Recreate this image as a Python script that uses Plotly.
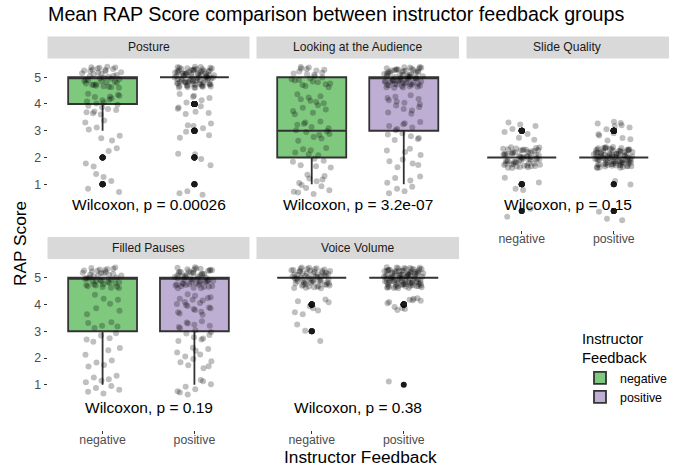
import numpy as np
import plotly.graph_objects as go

# ---------------------------------------------------------------
# Data: jittered RAP scores (integer score +
# vertical jitter). The box plots use the integer score.
# ---------------------------------------------------------------
groups = ["negative", "positive"]
facets = ["Posture", "Looking at the Audience", "Slide Quality", "Filled Pauses", "Voice Volume"]
p_labels = ["Wilcoxon, p = 0.00026", "Wilcoxon, p = 3.2e-07", "Wilcoxon, p = 0.15",
            "Wilcoxon, p = 0.19", "Wilcoxon, p = 0.38"]
y_ticks = [1, 2, 3, 4, 5]

posture_neg = [
    0.83, 1.12, 1.38, 0.71, 1.27,
    1.78, 2.24, 1.66, 2.35,
    2.72, 3.31, 2.64, 3.12, 2.81, 3.38, 3.05,
    4.21, 3.72, 4.35, 3.88, 4.09, 4.28, 3.65, 3.97, 4.14, 4.38, 3.81, 4.02, 4.31, 3.61, 3.93, 4.17, 4.26, 3.78, 4.06, 3.69,
    5.22, 4.71, 5.36, 4.85, 5.04, 4.63, 5.29, 4.92, 5.13, 4.77, 5.39, 4.68, 5.08, 4.96, 5.25, 4.81, 5.17, 4.61, 5.33, 4.89,
    5.02, 4.74, 5.19, 4.66, 5.37, 4.94, 5.11, 4.79, 5.27, 4.86, 5.06, 4.72, 5.31, 4.99, 5.15, 4.64, 5.23, 4.83, 5.35, 4.91,
]
posture_pos = [
    0.66, 0.61, 0.74,
    1.71, 2.12, 2.14, 1.94,
    3.21, 2.83, 3.18, 2.74, 3.09, 2.96, 3.27,
    4.31, 3.82, 4.14, 3.63, 4.22, 3.71, 4.37, 3.92, 4.06, 3.66, 4.27, 3.87,
    5.23, 4.69, 5.07, 4.88, 5.36, 4.73, 5.15, 4.95, 5.29, 4.62, 5.02, 4.81, 5.33, 4.91, 5.18, 4.66, 5.11, 4.76, 5.27, 4.99,
    5.38, 4.84, 5.05, 4.71, 5.21, 4.64, 5.13, 4.93, 5.31, 4.78, 5.09, 4.87, 5.25, 4.61, 5.17, 4.97, 5.34, 4.75, 5.03, 4.83,
    5.22, 4.68, 5.12, 4.90, 5.37, 4.80, 5.06, 4.72, 5.28, 4.94, 5.19, 4.63, 5.01, 4.86, 5.32, 4.77, 5.14, 4.96, 5.24, 4.67,
    5.10, 4.82, 5.35, 4.74, 5.04, 4.89, 5.20, 4.65, 5.16, 4.92, 5.30, 4.79, 5.08, 4.85, 5.26, 4.70, 5.12, 4.98, 5.39, 4.76,
    5.00, 4.88, 5.21, 4.62, 5.15, 4.90,
]
looking_neg = [
    0.72, 1.18, 0.86, 1.31, 0.64, 1.05, 0.93, 1.36, 0.78, 1.22, 0.69, 1.11, 0.97,
    1.63, 2.27, 1.84, 2.08, 1.71, 2.36, 1.95, 2.19, 1.67, 2.31, 1.88, 2.12,
    3.02, 2.71, 3.26, 2.88, 3.14, 2.63, 3.35, 2.95, 3.09, 2.77, 3.22, 2.84, 3.31, 2.98,
    4.12, 3.74, 4.29, 3.86, 4.03, 3.67, 4.36, 3.95, 4.18, 3.79, 4.24, 3.62, 4.07,
    5.21, 4.74, 5.36, 4.88, 5.09, 4.67, 5.28, 4.95, 5.14, 4.81, 5.33, 4.63, 5.04, 4.90, 5.25, 4.71, 5.17, 4.84, 5.38, 4.99,
    5.11, 4.77, 5.31, 4.92,
]
looking_pos = [
    0.66, 1.14, 0.83, 1.29, 0.74, 1.06, 0.91, 1.23,
    1.72, 2.21, 1.86, 2.33, 1.64, 2.09, 1.93, 2.26, 1.78,
    3.07, 2.73, 3.24, 2.86, 3.12, 2.65, 3.33, 2.91, 3.18, 2.79, 3.02, 2.69, 3.28,
    4.14, 3.76, 4.27, 3.89, 4.05, 3.68, 4.33, 3.94, 4.19, 3.81, 4.22, 3.64, 4.09, 3.99,
    5.24, 4.71, 5.09, 4.86, 5.35, 4.77, 5.16, 4.93, 5.29, 4.64, 5.03, 4.82, 5.32, 4.90, 5.19, 4.67, 5.12, 4.79, 5.26, 4.97,
    5.37, 4.85, 5.06, 4.73, 5.22, 4.62, 5.14, 4.94, 5.30, 4.76, 5.08, 4.88, 5.27, 4.61, 5.18, 4.98, 5.34, 4.74, 5.01, 4.84,
    5.23, 4.69, 5.11, 4.91, 5.38, 4.81, 5.05, 4.72, 5.28, 4.95, 5.20, 4.63, 5.02, 4.87, 5.33, 4.78, 5.15, 4.96, 5.25, 4.68,
    5.10, 4.83, 5.36, 4.75, 5.04, 4.89, 5.21, 4.66,
]
slide_neg = [
    -0.21, 0.09,
    0.83, 1.07, 0.79, 1.24,
    2.21, 1.74, 2.08, 1.86, 2.33, 1.67, 2.15, 1.93, 2.27, 1.62, 2.04, 1.81, 2.36, 1.89, 2.12, 1.70, 2.19, 1.97, 2.30, 1.77,
    2.01, 1.84, 2.25, 1.65, 2.10, 1.91, 2.38, 1.73, 2.06, 1.88, 2.17, 1.61, 2.28, 1.95, 2.13, 1.79, 2.34, 1.68, 2.02, 1.85,
    2.23, 1.76, 2.09, 1.99, 2.31, 1.64, 2.16, 1.92, 2.26, 1.72, 2.05, 1.83, 2.37, 1.69, 2.11, 1.94, 2.20, 1.78, 2.03, 1.87,
    2.29, 1.66,
    3.18, 2.74, 3.31, 2.88, 3.07, 2.66, 3.23, 2.95,
]
slide_pos = [
    -0.03, -0.34, -0.29,
    0.99, 1.12,
    2.18, 1.71, 2.05, 1.88, 2.32, 1.64, 2.13, 1.95, 2.27, 1.79, 2.02, 1.83, 2.36, 1.67, 2.10, 1.92, 2.24, 1.75, 2.07, 1.98,
    2.30, 1.62, 2.16, 1.86, 2.39, 1.73, 2.01, 1.90, 2.21, 1.69, 2.12, 1.81, 2.34, 1.77, 2.04, 1.94, 2.26, 1.66, 2.09, 1.85,
    2.19, 1.72, 2.37, 1.89, 2.03, 1.61, 2.15, 1.97, 2.28, 1.76, 2.06, 1.84, 2.33, 1.68, 2.11, 1.93, 2.22, 1.78, 2.00, 1.87,
    2.35, 1.65, 2.14, 1.96, 2.25, 1.74, 2.08, 1.82, 2.31, 1.70, 2.17, 1.91, 2.38, 1.80, 2.02, 1.63, 2.20, 1.99, 2.29, 1.75,
    2.06, 1.88, 2.23, 1.67, 2.13, 1.94, 2.36, 1.72, 2.04, 1.85, 2.27, 1.79, 2.10, 1.90,
    3.34, 2.82, 3.21, 2.64, 3.12, 2.91, 3.27, 2.73, 3.06, 2.68, 3.18, 2.87, 3.29,
]
filled_neg = [
    0.74, 1.21, 0.88, 1.34, 0.67, 1.09, 0.95, 1.27, 0.81, 1.15,
    1.68, 2.29, 1.83, 2.37, 1.74, 2.12, 1.91,
    2.61, 3.18, 2.84, 3.31, 2.74, 3.12, 2.93, 3.21, 2.69, 3.34,
    4.36, 3.77, 4.21, 3.64, 4.03, 3.86, 4.18,
    5.26, 4.73, 5.11, 4.86, 5.34, 4.65, 5.19, 4.93, 5.05, 4.79, 5.31, 4.68, 5.14, 4.89, 5.38, 4.76, 5.02, 4.84, 5.23, 4.62,
    5.16, 4.97, 5.29, 4.71, 5.08, 4.91, 5.36, 4.81, 5.12, 4.66, 5.21, 4.95, 5.33, 4.75, 5.01, 4.87, 5.27, 4.63, 5.09, 4.83,
    5.18, 4.99,
]
filled_pos = [
    0.71, 1.13, 0.64, 1.02, 0.83, 0.76, 1.18, 0.93,
    1.69, 2.27, 1.84, 2.13, 1.73, 2.34, 1.96, 2.21, 1.62, 2.06, 1.88, 2.38,
    3.16, 2.73, 3.29, 2.86, 3.04, 2.64, 3.37, 2.92, 3.21, 2.78, 3.11, 2.69, 3.33, 2.97, 3.24,
    4.21, 3.73, 4.09, 3.86, 4.33, 3.66, 4.15, 3.94, 4.27, 3.79, 4.02, 3.62, 4.38, 3.89, 4.18, 3.71, 4.06, 3.98, 4.24, 3.83,
    5.22, 4.74, 5.07, 4.86, 5.35, 4.68, 5.15, 4.92, 5.28, 4.63, 5.03, 4.81, 5.32, 4.89, 5.19, 4.71, 5.10, 4.77, 5.26, 4.96,
    5.37, 4.84, 5.05, 4.66, 5.20, 4.61, 5.13, 4.94, 5.30, 4.79, 5.08, 4.87, 5.24, 4.69, 5.17, 4.98, 5.34, 4.73, 5.01, 4.83,
    5.21, 4.65, 5.12, 4.91, 5.39, 4.80, 5.04, 4.76, 5.27, 4.93, 5.18, 4.62, 5.02, 4.88, 5.31, 4.75, 5.14,
]
voice_neg = [
    3.25, 2.64, 3.02,
    4.19, 3.86, 4.12, 3.78, 3.64, 4.08, 3.93, 3.71,
    5.21, 4.73, 5.08, 4.88, 5.34, 4.66, 5.16, 4.94, 5.27, 4.62, 5.03, 4.82, 5.31, 4.90, 5.12, 4.69, 5.24, 4.78, 5.37, 4.97,
    5.06, 4.85, 5.19, 4.64, 5.29, 4.92, 5.01, 4.75, 5.14, 4.87, 5.35, 4.70, 5.09, 4.96, 5.23, 4.61, 5.17, 4.83, 5.32, 4.79,
    5.04, 4.91, 5.26, 4.67, 5.11, 4.86, 5.38, 4.74, 5.02, 4.93, 5.20, 4.63, 5.15, 4.81, 5.28, 4.89, 5.07, 4.71, 5.33, 4.98,
    5.13, 4.77, 5.25, 4.84, 5.05,
]
voice_pos = [
    1.12,
    4.21, 3.79, 4.14, 3.83, 4.09, 4.18, 3.91, 4.23, 3.87, 4.05, 4.16,
    5.24, 4.71, 5.06, 4.89, 5.33, 4.65, 5.17, 4.93, 5.28, 4.62, 5.02, 4.80, 5.36, 4.87, 5.13, 4.68, 5.21, 4.76, 5.39, 4.96,
    5.09, 4.84, 5.26, 4.63, 5.15, 4.91, 5.31, 4.73, 5.04, 4.85, 5.35, 4.69, 5.11, 4.98, 5.22, 4.61, 5.18, 4.82, 5.30, 4.78,
    5.01, 4.94, 5.27, 4.66, 5.14, 4.88, 5.37, 4.75, 5.07, 4.90, 5.19, 4.64, 5.12, 4.83, 5.32, 4.79, 5.05, 4.97, 5.25, 4.70,
    5.16, 4.86, 5.34, 4.74, 5.03, 4.92, 5.23, 4.67, 5.10, 4.81, 5.38, 4.77, 5.08, 4.95, 5.20, 4.62, 5.15, 4.87, 5.29, 4.72,
    5.00, 4.90, 5.26, 4.65, 5.13, 4.84, 5.33, 4.76, 5.06, 4.99, 5.21, 4.68, 5.11, 4.82, 5.36, 4.73, 5.04, 4.93, 5.24, 4.80,
]

facet_data = {
    "Posture": (posture_neg, posture_pos),
    "Looking at the Audience": (looking_neg, looking_pos),
    "Slide Quality": (slide_neg, slide_pos),
    "Filled Pauses": (filled_neg, filled_pos),
    "Voice Volume": (voice_neg, voice_pos),
}

# ---------------------------------------------------------------
# Style / layout constants (positions in page pixels)
# ---------------------------------------------------------------
W, H = 674, 468
FONT = "Liberation Sans, Arial, sans-serif"
FILL = {"negative": "#7FC97F", "positive": "#BEAED4"}
STRIP_BG = "#D9D9D9"

COL_X = [(47.5, 249.5), (256.5, 459.0), (466.5, 669.0)]
ROW_Y = [(58.5, 229.5), (259.0, 430.0)]      # panel top/bottom
STRIP_H = 22
Y_RANGE = [-0.69, 5.70]
LABEL_Y = [0.26, 0.16]
# sub-columns for the jittered points (in half box widths)
POINT_POS = [-0.45, 0.22, -0.22, 0.45, 0.0]


def px_x(v):
    return v / W


def px_y(v):
    return 1 - v / H


fig = go.Figure()
layout = dict(shapes=[], annotations=[])

for i, facet in enumerate(facets):
    r, c = divmod(i, 3)
    ax = "" if i == 0 else str(i + 1)
    xref, yref = "x" + ax, "y" + ax
    neg, pos = facet_data[facet]

    for g, vals in zip(groups, (neg, pos)):
        vals = np.array(vals)
        # box of integer scores, outliers in black
        fig.add_trace(go.Box(
            x=[g] * len(vals), y=np.rint(vals), xaxis=xref, yaxis=yref,
            name=g, showlegend=(i == 0),
            fillcolor=FILL[g], line=dict(color="#333333", width=1.8),
            width=0.75, whiskerwidth=0,
            boxpoints="outliers", jitter=0, pointpos=0,
            marker=dict(color="#1A1A1A", size=6, line=dict(width=0)),
            hoverinfo="skip",
        ))
        # jittered raw points on top, spread over a few sub-columns
        for k, pp in enumerate(POINT_POS):
            sub = vals[k::len(POINT_POS)]
            fig.add_trace(go.Box(
                x=[g] * len(sub), y=sub, xaxis=xref, yaxis=yref,
                showlegend=False, width=0.75,
                fillcolor="rgba(0,0,0,0)", line=dict(color="rgba(0,0,0,0)", width=0),
                boxpoints="all", jitter=0.15, pointpos=pp,
                marker=dict(color="rgba(0,0,0,0.25)", size=6, line=dict(width=0)),
                hoverinfo="y",
            ))

    x0, x1 = COL_X[c]
    yt, yb = ROW_Y[r]
    bottom = i >= 2
    layout["xaxis" + ax] = dict(
        domain=[px_x(x0), px_x(x1)], anchor=yref, type="category",
        categoryorder="array", categoryarray=groups, range=[-0.6, 1.6],
        showgrid=False, zeroline=False, showline=False,
        ticks="outside" if bottom else "", ticklen=3, tickcolor="#333333",
        ticklabelstandoff=-5,
        showticklabels=bottom, tickfont=dict(family=FONT, size=12.3, color="#4D4D4D"),
    )
    layout["yaxis" + ax] = dict(
        domain=[px_y(yb), px_y(yt)], anchor=xref, range=Y_RANGE,
        tickvals=y_ticks, showgrid=False, zeroline=False, showline=False,
        ticks="outside" if c == 0 else "", ticklen=3, tickcolor="#333333",
        showticklabels=(c == 0), tickfont=dict(family=FONT, size=12.3, color="#4D4D4D"),
    )

    # facet strip
    layout["shapes"].append(dict(
        type="rect", xref="paper", yref="paper",
        x0=px_x(x0), x1=px_x(x1), y0=px_y(yt), y1=px_y(yt - STRIP_H),
        fillcolor=STRIP_BG, line=dict(width=0), layer="below",
    ))
    layout["annotations"].append(dict(
        text=facet, xref="paper", yref="paper", showarrow=False,
        x=px_x((x0 + x1) / 2), y=px_y(yt - STRIP_H / 2),
        xanchor="center", yanchor="middle",
        font=dict(family=FONT, size=12.1, color="#1A1A1A"),
    ))
    # test label
    layout["annotations"].append(dict(
        text=p_labels[i], xref=xref, yref=yref, showarrow=False,
        x=0.5, y=LABEL_Y[r], xanchor="center", yanchor="middle",
        font=dict(family=FONT, size=15.5, color="black"),
    ))

# titles
layout["annotations"] += [
    dict(text="Mean RAP Score comparison between instructor feedback groups",
         xref="paper", yref="paper", x=px_x(46), y=px_y(14), xanchor="left", yanchor="middle",
         showarrow=False, font=dict(family=FONT, size=19.7, color="black")),
    dict(text="RAP Score", xref="paper", yref="paper", x=px_x(20), y=px_y(244),
         textangle=-90, xanchor="center", yanchor="middle",
         showarrow=False, font=dict(family=FONT, size=17.3, color="black")),
    dict(text="Instructor Feedback", xref="paper", yref="paper", x=px_x(360), y=px_y(456.5),
         xanchor="center", yanchor="middle",
         showarrow=False, font=dict(family=FONT, size=17.3, color="black")),
]

fig.update_layout(
    **layout,
    width=W, height=H, autosize=False,
    margin=dict(l=0, r=0, t=0, b=0),
    paper_bgcolor="white", plot_bgcolor="white",
    boxmode="overlay",
    font=dict(family=FONT, color="black"),
    legend=dict(
        title=dict(text="Instructor<br>Feedback", font=dict(family=FONT, size=14.7, color="black")),
        font=dict(family=FONT, size=12.4, color="black"),
        x=px_x(580), y=px_y(325), xanchor="left", yanchor="top",
        bgcolor="rgba(0,0,0,0)", itemwidth=30, tracegroupgap=0,
    ),
)

# drop the default page margin so the figure fills the window
fig.write_html("out.html", config={"displayModeBar": False},
               post_script="document.body.style.margin = '0px';")
